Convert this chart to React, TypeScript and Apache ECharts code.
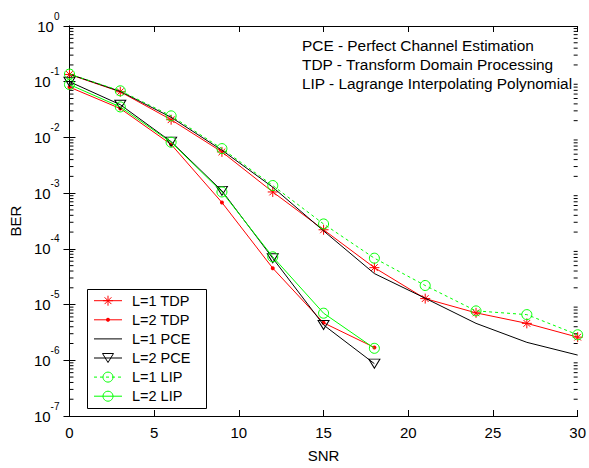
import React, { useEffect, useRef } from "react";
import * as echarts from "echarts";

// ---- data ----
const snrL1 = [0, 3, 6, 9, 12, 15, 18, 21, 24, 27, 30];
const snrL2 = [0, 3, 6, 9, 12, 15, 18];

const l1Tdp = [0.135, 0.066, 0.0208, 0.0055, 0.00105, 2.2e-4, 4.6e-5, 1.28e-5, 7.1e-6, 4.6e-6, 2.6e-6];
const l2Tdp = [0.08, 0.033, 0.0075, 6.8e-4, 4.5e-5, 4.7e-6, 1.7e-6];
const l1Pce = [0.137, 0.067, 0.023, 0.0059, 0.00128, 2.1e-4, 3.6e-5, 1.3e-5, 4.6e-6, 2.1e-6, 1.24e-6];
const l2Pce = [0.1, 0.0387, 0.0084, 1.1e-3, 6.8e-5, 4.3e-6, 8.7e-7];
const l1Lip = [0.137, 0.0687, 0.0244, 0.0063, 0.00137, 2.8e-4, 6.8e-5, 2.2e-5, 7.7e-6, 6.6e-6, 2.87e-6];
const l2Lip = [0.089, 0.0353, 0.0082, 1.05e-3, 7.2e-5, 7.0e-6, 1.64e-6];

const legendNames = ["L=1 TDP", "L=2 TDP", "L=1 PCE", "L=2 PCE", "L=1 LIP", "L=2 LIP"];
const notes = [
  "PCE - Perfect Channel Estimation",
  "TDP - Transform Domain Processing",
  "LIP - Lagrange Interpolating Polynomial",
];
const xName = "SNR";
const yName = "BER";
const yMin = 1e-7;
const yMax = 1;
const xMin = 0;
const xMax = 30;
const xInterval = 5;

// minor log ticks (axis decoration, 2..9 x 10^k)
const minorTickValues: number[] = [];
for (let e = -7; e < 0; e++) {
  for (let m = 2; m <= 9; m++) minorTickValues.push(m * Math.pow(10, e));
}

const FONT = "'Liberation Sans', Arial, Helvetica, sans-serif";
const RED = "#ff0000";
const GREEN = "#00ff00";
const BLACK = "#000000";
const STAR = "path://M5,0L5,10M0,5L10,5M1.6,1.6L8.4,8.4M1.6,8.4L8.4,1.6";
const TRI = "path://M0,0L12,0L6,10Z";

function pairs(xs: number[], ys: number[]) {
  return ys.map((y, i) => [xs[i], y]);
}

export default function App() {
  const ref = useRef<HTMLDivElement>(null);

  useEffect(() => {
    if (!ref.current) return;
    const chart = echarts.init(ref.current, undefined, { renderer: "svg" });

    const tickLine = { color: BLACK, width: 1 };

    // legend drawn with graphic elements
    const lgX = 87, lgY = 289, lgW = 119, lgH = 119;
    const rowY0 = 300.7, rowStep = 19.1;
    const lx1 = 94, lx2 = 122, lsx = 108, ltx = 132;
    const legendChildren: any[] = [
      {
        type: "rect",
        shape: { x: lgX + 0.5, y: lgY + 0.5, width: lgW, height: lgH },
        style: { fill: "#fff", stroke: BLACK, lineWidth: 1 },
      },
    ];
    const rowColors = [RED, RED, BLACK, BLACK, GREEN, GREEN];
    legendNames.forEach((name, i) => {
      const y = rowY0 + i * rowStep;
      legendChildren.push({
        type: "line",
        shape: { x1: lx1, y1: y, x2: lx2, y2: y },
        style: { stroke: rowColors[i], lineWidth: 1, lineDash: i === 4 ? [3, 3] : null },
      });
      if (i === 0) {
        [
          [0, -5, 0, 5],
          [-5, 0, 5, 0],
          [-3.4, -3.4, 3.4, 3.4],
          [-3.4, 3.4, 3.4, -3.4],
        ].forEach((s) =>
          legendChildren.push({
            type: "line",
            shape: { x1: lsx + s[0], y1: y + s[1], x2: lsx + s[2], y2: y + s[3] },
            style: { stroke: RED, lineWidth: 1 },
          })
        );
      } else if (i === 1) {
        legendChildren.push({ type: "circle", shape: { cx: lsx, cy: y, r: 2 }, style: { fill: RED } });
      } else if (i === 3) {
        legendChildren.push({
          type: "polygon",
          shape: { points: [[lsx - 5.5, y - 4.5], [lsx + 5.5, y - 4.5], [lsx, y + 4.5]] },
          style: { fill: "none", stroke: BLACK, lineWidth: 1 },
        });
      } else if (i === 4 || i === 5) {
        legendChildren.push({
          type: "circle",
          shape: { cx: lsx, cy: y, r: 5 },
          style: { fill: "none", stroke: GREEN, lineWidth: 1 },
        });
      }
      legendChildren.push({
        type: "text",
        style: {
          x: ltx,
          y: y,
          text: name,
          fill: BLACK,
          font: `14.5px ${FONT}`,
          verticalAlign: "middle",
        },
      });
    });

    const noteChildren = notes.map((t, i) => ({
      type: "text",
      style: {
        x: 302,
        y: 45.5 + i * 19,
        text: t,
        fill: BLACK,
        font: `15.4px ${FONT}`,
        verticalAlign: "middle",
      },
    }));

    const lineSeries = (name: string, xs: number[], ys: number[], color: string, opts: any) => ({
      type: "line",
      name,
      data: pairs(xs, ys),
      xAxisIndex: 0,
      yAxisIndex: 0,
      lineStyle: { color, width: 1, type: opts.dashed ? [3, 3] : "solid" },
      symbol: opts.symbol,
      symbolSize: opts.symbolSize,
      showSymbol: opts.symbol !== "none",
      itemStyle: opts.itemStyle,
      emphasis: { disabled: true },
      z: opts.z,
    });

    const option: any = {
      animation: false,
      backgroundColor: "#fff",
      textStyle: { fontFamily: FONT },
      grid: { left: 68, right: 8, top: 26, bottom: 37, containLabel: false },
      xAxis: [
        {
          type: "value",
          min: xMin,
          max: xMax,
          interval: xInterval,
          name: xName,
          nameLocation: "middle",
          nameGap: 32,
          nameTextStyle: { fontSize: 15, color: BLACK, fontFamily: FONT },
          axisLine: { show: true, lineStyle: tickLine },
          axisTick: { show: true, inside: true, length: 6, lineStyle: tickLine },
          axisLabel: { fontSize: 15, color: BLACK, margin: 9, fontFamily: FONT },
          splitLine: { show: false },
        },
        {
          type: "value",
          position: "top",
          min: xMin,
          max: xMax,
          interval: xInterval,
          axisLine: { show: true, lineStyle: tickLine },
          axisTick: { show: true, inside: true, length: 6, lineStyle: tickLine },
          axisLabel: { show: false },
          splitLine: { show: false },
        },
      ],
      yAxis: [
        {
          type: "log",
          logBase: 10,
          min: yMin,
          max: yMax,
          splitNumber: 7,
          name: yName,
          nameLocation: "middle",
          nameGap: 43,
          nameTextStyle: { fontSize: 15, color: BLACK, fontFamily: FONT },
          axisLine: { show: true, lineStyle: tickLine },
          axisTick: { show: true, inside: true, length: 6, lineStyle: tickLine },
          axisLabel: {
            margin: 10,
            color: BLACK,
            formatter: (v: number) => `{b|10}{s|${Math.round(Math.log10(v))}}`,
            rich: {
              b: { fontSize: 15, lineHeight: 30, fontFamily: FONT, color: BLACK },
              s: { fontSize: 10, lineHeight: 10, verticalAlign: "top", fontFamily: FONT, color: BLACK },
            },
          },
          splitLine: { show: false },
        },
        {
          type: "log",
          logBase: 10,
          position: "right",
          min: yMin,
          max: yMax,
          splitNumber: 7,
          axisLine: { show: true, lineStyle: tickLine },
          axisTick: { show: true, inside: true, length: 6, lineStyle: tickLine },
          axisLabel: { show: false },
          splitLine: { show: false },
        },
      ],
      graphic: [
        { type: "group", children: noteChildren },
        { type: "group", children: legendChildren, z: 100 },
      ],
      series: [
        {
          type: "custom",
          name: "minorTicks",
          silent: true,
          clip: false,
          xAxisIndex: 0,
          yAxisIndex: 0,
          z: 1,
          data: minorTickValues.map((v) => [xMin, v]),
          renderItem: (_p: any, api: any) => {
            const v = api.value(1);
            const l = api.coord([xMin, v]);
            const r = api.coord([xMax, v]);
            return {
              type: "group",
              children: [
                { type: "line", shape: { x1: l[0], y1: l[1], x2: l[0] + 4, y2: l[1] }, style: { stroke: BLACK, lineWidth: 1 } },
                { type: "line", shape: { x1: r[0] - 4, y1: r[1], x2: r[0], y2: r[1] }, style: { stroke: BLACK, lineWidth: 1 } },
              ],
            };
          },
        },
        lineSeries(legendNames[0], snrL1, l1Tdp, RED, {
          symbol: STAR,
          symbolSize: 10,
          itemStyle: { color: RED, borderColor: RED, borderWidth: 1 },
          z: 2,
        }),
        lineSeries(legendNames[1], snrL2, l2Tdp, RED, {
          symbol: "circle",
          symbolSize: 4,
          itemStyle: { color: RED, borderWidth: 0 },
          z: 2,
        }),
        lineSeries(legendNames[2], snrL1, l1Pce, BLACK, {
          symbol: "none",
          symbolSize: 0,
          itemStyle: { color: BLACK },
          z: 3,
        }),
        lineSeries(legendNames[3], snrL2, l2Pce, BLACK, {
          symbol: TRI,
          symbolSize: [11, 9],
          itemStyle: { color: "rgba(0,0,0,0)", borderColor: BLACK, borderWidth: 1 },
          z: 3,
        }),
        lineSeries(legendNames[4], snrL1, l1Lip, GREEN, {
          symbol: "circle",
          symbolSize: 10,
          dashed: true,
          itemStyle: { color: "rgba(0,0,0,0)", borderColor: GREEN, borderWidth: 1 },
          z: 4,
        }),
        lineSeries(legendNames[5], snrL2, l2Lip, GREEN, {
          symbol: "circle",
          symbolSize: 10,
          itemStyle: { color: "rgba(0,0,0,0)", borderColor: GREEN, borderWidth: 1 },
          z: 4,
        }),
      ],
    };

    chart.setOption(option);
    return () => chart.dispose();
  }, []);

  return (
    <div
      ref={ref}
      style={{ position: "fixed", left: 0, top: 0, width: 589, height: 468, background: "#fff" }}
    />
  );
}
